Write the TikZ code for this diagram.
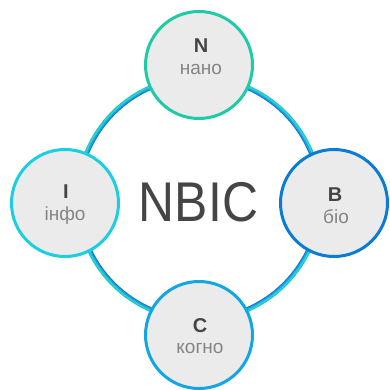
\documentclass[tikz,border=0pt]{standalone}
\usepackage{fontspec}
\setmainfont{Liberation Sans}
\definecolor{cteal}{HTML}{1FCBA6}
\definecolor{ccyan}{HTML}{1CCFE0}
\definecolor{cblue}{HTML}{0B7CD3}
\definecolor{clblue}{HTML}{12A6E2}
\definecolor{cfill}{HTML}{EBEBEB}
\definecolor{cdark}{HTML}{454545}
\definecolor{csub}{HTML}{858585}
\tikzset{
  bubble/.style={circle, fill=cfill, line width=3pt, minimum size=107pt, inner sep=0pt},
  lett/.style={anchor=base, text=cdark, font=\fontsize{20}{20}\selectfont\bfseries},
  sub/.style={anchor=base, text=csub, font=\fontsize{19}{20}\selectfont},
  ringline/.style={line width=1.25pt}
}
\begin{document}
\begin{tikzpicture}[x=1pt,y=-1pt]
\useasboundingbox (0,0) rectangle (390,390);
\coordinate (ctr) at (199,198.5);
\draw[ringline, cteal] (ctr) circle[radius=122.9];
\draw[ringline, ccyan] (ctr) circle[radius=121.7];
\draw[ringline, clblue] (ctr) circle[radius=120.5];
\draw[ringline, cblue] (ctr) circle[radius=119.3];
\node[anchor=base, text=cdark, font=\fontsize{56}{60}\selectfont, xscale=0.89] (nbic) at (198.5,221) {NBIC};
\node[bubble, draw=cteal] (n) at (199,65) {};
\node[bubble, draw=ccyan] (i) at (65,203) {};
\node[bubble, draw=cblue] (b) at (334,203) {};
\node[bubble, draw=clblue] (c) at (199,335) {};
\node[lett] (nl) at (201,53) {N};
\node[sub] (ns) at (201,75) {нано};
\node[lett] (bl) at (335,201) {B};
\node[sub] (bs) at (336,223) {біо};
\node[lett] (il) at (66,198) {I};
\node[sub] (is) at (65,220) {інфо};
\node[lett] (cl) at (200,332) {C};
\node[sub] (cs) at (200,353) {когно};
\end{tikzpicture}
\end{document}
